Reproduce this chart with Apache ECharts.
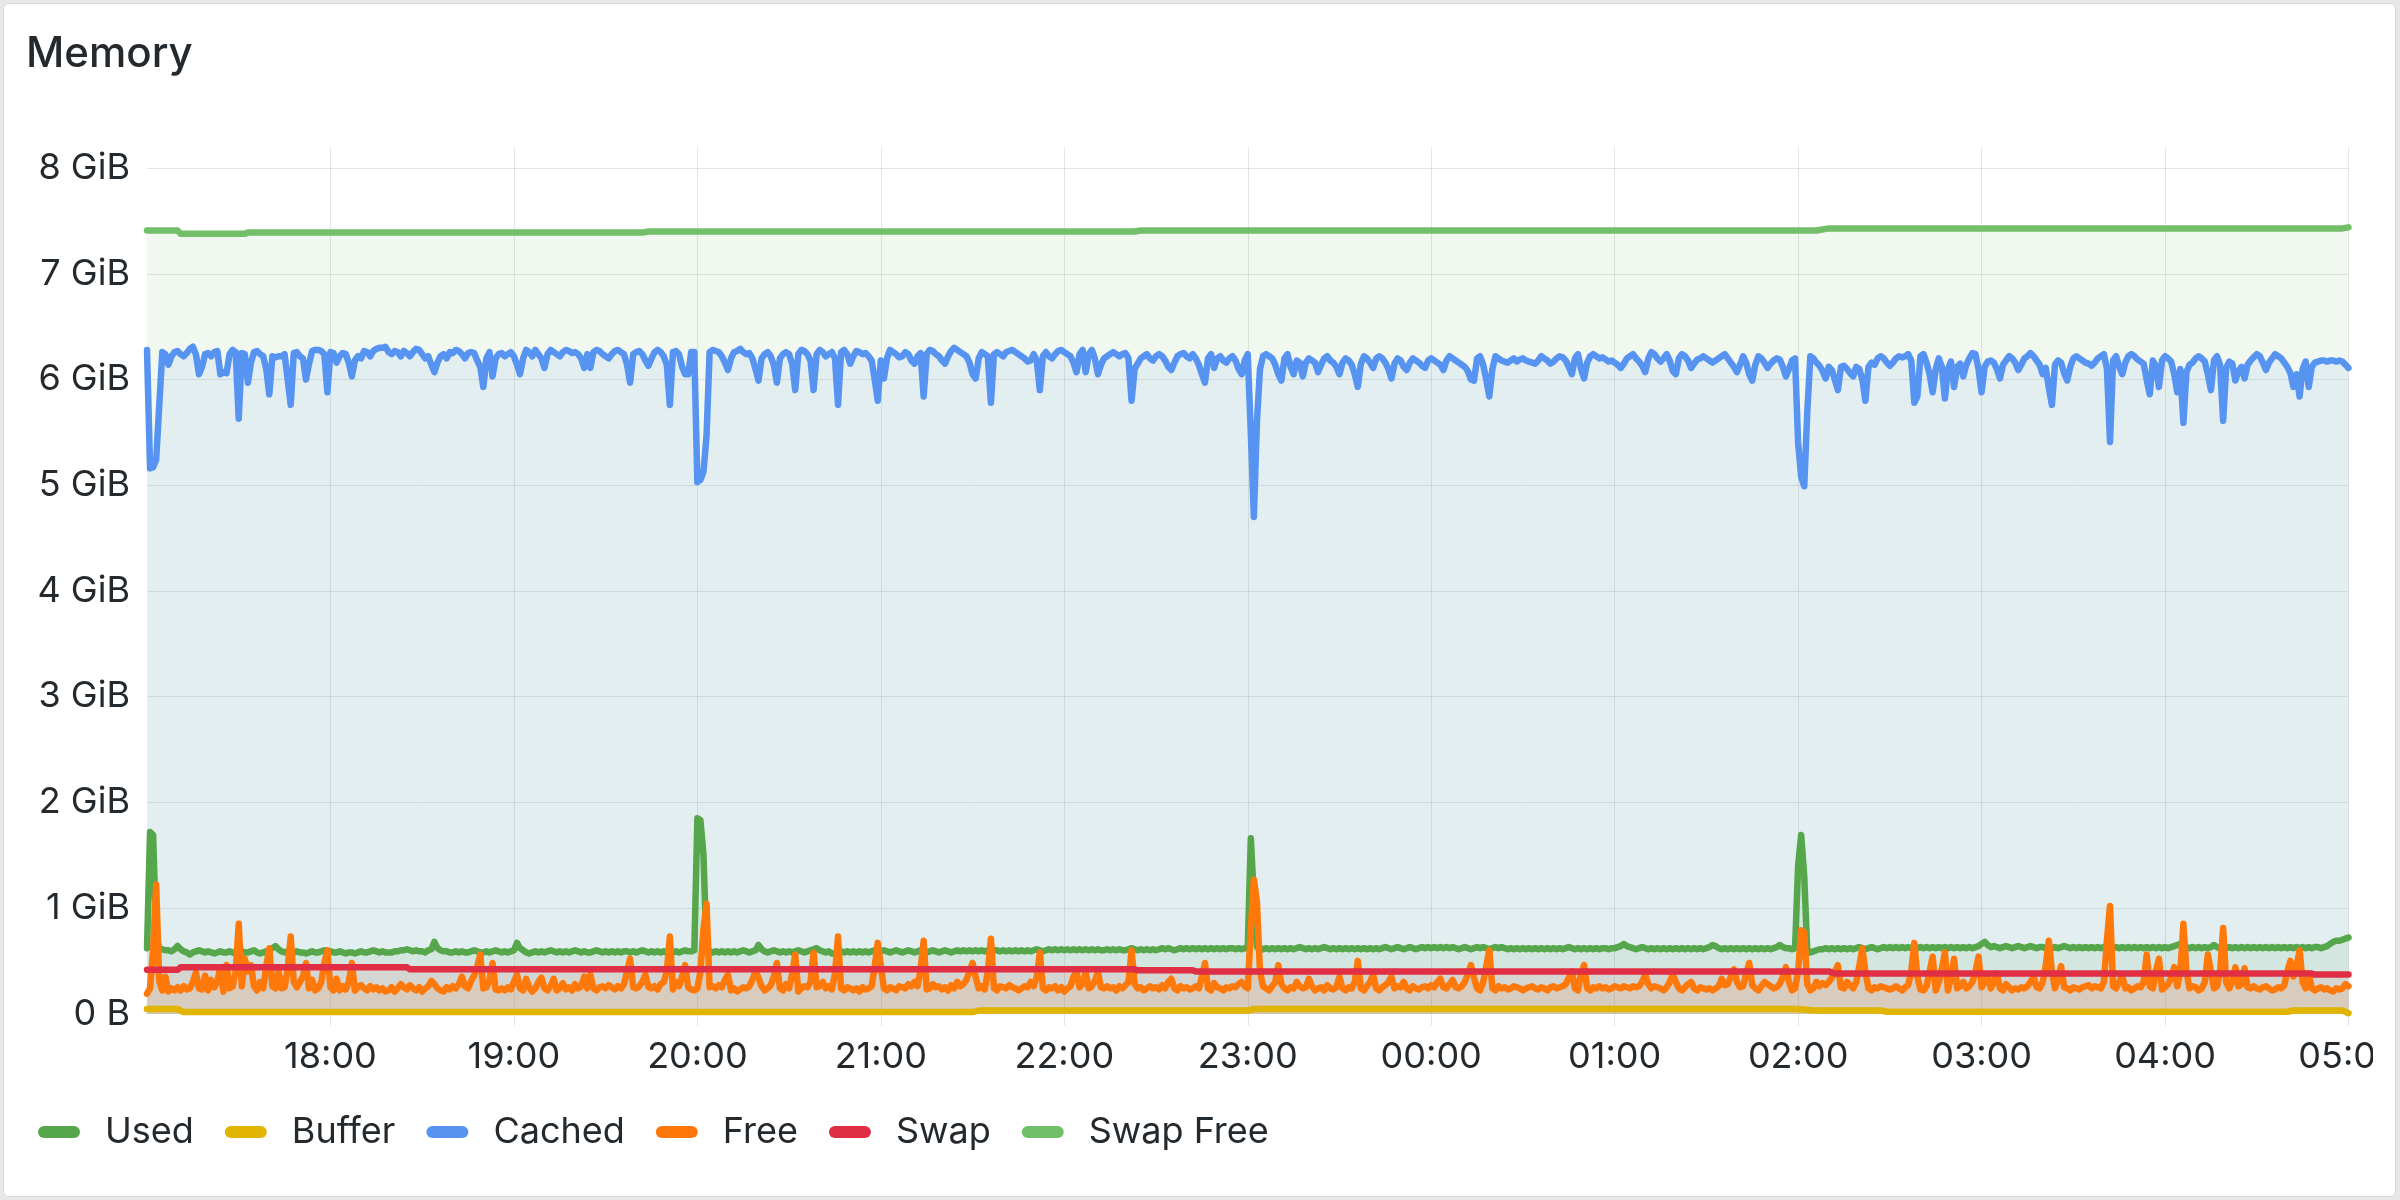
<!DOCTYPE html>
<html>
<head>
<meta charset="utf-8">
<title>Memory</title>
<script src="https://cdn.jsdelivr.net/npm/echarts@6/dist/echarts.min.js"></script>
<style>
  html, body { margin: 0; padding: 0; background: #e6e7e9; }
  .panel { position: absolute; left: 3px; top: 3px; width: 2391px; height: 1192px; background: #fff; border: 1px solid #d8d9db; border-radius: 6px; }
  #chart { position: absolute; left: 0; top: 0; width: 2373px; height: 1200px; }
</style>
</head>
<body>
<div class="panel"></div>
<div id="chart"></div>
<script>
  // time axis: minutes since 17:00, one sample per minute up to 05:00
  var startHour = 17
  var stepMin = 1

  // values in 1/100 GiB
  var cached = [
    628,516,517,524,575,626,624,614,622,626,627,624,622,625,629,631,624,605,612,624,
    625,622,626,627,605,607,606,624,628,626,563,625,624,597,616,626,627,624,622,610,
    586,622,621,622,622,624,600,576,625,626,622,620,600,615,627,628,628,627,624,588,
    626,625,616,622,625,624,616,603,618,622,620,627,626,622,627,629,630,630,631,626,
    624,627,626,622,627,625,622,626,629,628,624,620,622,614,607,616,622,624,620,626,
    625,628,627,624,620,625,626,625,618,612,593,620,626,603,620,624,625,622,624,626,
    622,614,605,620,628,626,622,628,624,620,611,624,628,626,624,622,626,628,627,625,
    626,624,620,611,624,611,626,628,627,624,622,620,624,627,628,626,624,614,597,624,
    626,627,624,618,613,620,626,628,626,622,614,576,626,627,624,612,605,605,626,626,
    503,505,513,547,626,628,627,626,622,616,609,620,626,627,629,626,624,625,620,610,
    599,620,624,626,622,614,597,620,624,626,624,615,590,624,628,627,624,618,590,624,
    628,626,622,624,626,620,576,626,628,624,615,622,627,626,624,625,622,618,600,580,
    618,601,620,628,626,624,621,622,626,624,618,615,622,625,584,624,628,627,624,622,
    618,615,622,627,630,628,626,624,622,616,605,601,620,626,624,622,578,624,626,624,
    622,626,627,628,626,624,622,620,617,618,624,618,590,622,626,622,620,624,627,628,
    626,624,622,616,607,624,628,607,624,628,620,605,614,620,622,624,626,624,622,624,
    625,620,580,610,615,620,622,624,620,618,622,624,622,618,612,609,616,622,624,625,
    622,620,624,620,614,605,597,620,624,611,620,622,618,616,620,622,618,610,605,618,
    624,550,470,560,610,622,624,622,620,614,605,599,620,624,612,605,618,616,603,616,
    620,618,616,607,614,620,622,618,616,612,605,616,620,618,614,605,593,615,622,620,
    616,611,620,622,620,616,610,601,615,620,618,612,609,616,620,618,616,613,611,618,
    620,618,616,614,609,618,622,620,618,616,614,612,608,600,599,620,622,614,600,584,
    610,622,620,618,617,616,618,620,617,619,620,618,617,616,615,618,622,620,618,615,
    617,620,622,621,618,612,605,620,624,610,601,616,622,624,622,620,621,619,617,618,
    616,614,611,615,620,622,624,620,617,613,607,620,626,624,620,617,620,624,618,608,
    605,620,624,622,618,611,615,619,620,622,620,618,616,618,620,622,624,620,616,612,
    607,614,622,616,605,599,614,622,620,616,611,615,618,620,619,612,603,610,618,620,
    540,508,499,570,622,620,616,613,608,601,612,609,600,590,612,613,610,606,603,612,
    610,600,580,612,616,614,620,622,620,616,613,616,620,622,621,622,624,618,578,584,
    622,624,616,605,588,610,620,612,582,610,617,593,612,615,603,614,620,625,624,610,
    588,612,617,618,616,610,601,614,618,622,620,616,609,614,620,622,625,622,618,614,
    605,611,592,576,614,618,616,606,599,612,620,622,620,618,616,615,613,616,620,622,
    624,610,541,618,622,612,605,616,622,624,622,619,617,615,600,586,618,613,593,618,
    622,620,617,605,588,610,559,607,614,616,620,622,620,617,605,590,618,622,614,561,
    611,617,615,599,608,612,601,614,618,621,624,622,616,609,616,620,624,622,620,616,
    612,606,593,605,584,610,617,593,612,616,617,618,618,617,618,618,617,618,617,614,
    611
  ]

  var free = [
    19,24,60,122,31,22,35,21,24,22,25,22,26,23,24,30,39,24,23,36,
    22,32,25,30,44,21,46,24,26,40,85,26,52,40,46,26,22,30,24,45,
    62,26,24,40,24,25,42,73,30,25,30,35,48,24,32,22,24,30,48,60,
    25,22,33,22,26,23,30,48,22,25,27,24,22,26,23,25,22,24,21,22,
    25,21,24,28,25,23,27,24,22,25,21,24,26,31,28,24,22,21,25,23,
    26,24,28,35,26,24,31,36,45,56,24,25,32,48,23,22,24,22,25,23,
    30,37,24,22,33,25,21,24,30,34,24,22,26,33,22,24,29,23,25,22,
    28,24,26,35,24,37,24,22,25,26,24,27,25,23,26,24,28,40,52,25,
    24,26,30,37,25,24,26,23,28,30,40,73,23,30,26,35,46,25,23,22,
    24,40,80,104,25,26,24,27,25,32,37,22,24,21,23,25,24,26,32,40,
    34,26,22,24,27,35,48,24,22,28,24,38,56,21,24,26,25,30,58,25,
    26,30,24,26,23,38,73,24,22,25,24,22,24,21,25,23,24,26,45,67,
    46,24,22,25,24,22,26,25,24,28,26,30,26,42,69,23,24,28,25,26,
    23,25,22,27,24,30,26,28,32,40,48,35,24,26,23,40,71,24,22,26,
    25,24,27,25,24,22,24,26,25,30,26,35,58,24,22,25,24,26,22,25,
    21,24,26,35,40,25,28,39,24,26,31,39,25,24,26,24,25,22,26,24,
    27,30,60,28,24,25,22,24,26,24,25,23,27,24,30,33,24,22,26,24,
    25,23,24,26,24,35,48,24,22,29,25,24,22,25,24,26,25,28,30,26,
    24,80,127,106,40,26,24,22,26,30,46,28,24,22,25,24,30,26,24,25,
    33,26,22,24,25,22,27,24,23,25,35,24,22,25,24,30,50,24,22,26,
    30,37,24,22,25,27,30,35,24,26,25,30,24,22,26,24,23,25,26,24,
    27,25,30,33,25,24,28,32,25,24,26,30,38,46,34,24,22,30,45,60,
    24,22,26,24,25,23,24,26,25,24,22,24,25,26,24,23,25,24,22,25,
    26,24,25,26,28,34,40,24,22,38,46,24,22,25,24,26,24,25,23,24,
    26,25,24,26,25,24,26,25,26,30,37,28,24,26,25,24,22,25,30,37,
    30,24,22,25,28,30,24,22,25,24,23,24,22,24,26,33,27,28,35,42,
    30,25,26,38,48,27,24,22,26,30,28,26,24,25,28,35,44,30,22,24,
    40,79,77,28,22,24,30,26,29,27,30,34,40,46,25,24,30,27,24,30,
    45,62,40,24,22,25,24,26,25,24,23,24,26,24,22,25,27,40,67,35,
    23,22,26,40,54,22,30,42,58,22,35,52,24,26,30,24,26,30,40,54,
    25,30,35,24,30,38,24,22,28,25,22,24,23,25,24,26,30,35,25,24,
    30,46,69,40,24,33,45,25,24,22,25,24,23,25,26,27,24,26,25,24,
    30,70,102,26,24,30,36,24,25,22,24,26,25,30,56,26,24,40,52,23,
    25,28,34,44,26,40,85,40,24,26,25,22,24,30,56,40,24,26,40,81,
    30,24,30,44,26,28,43,25,24,26,24,23,25,26,24,22,23,25,24,27,
    40,50,35,45,60,30,24,38,24,22,24,25,23,24,22,21,24,23,24,28,
    26
  ]

  var used = [
    62,172,169,75,61,61,60,60,59,61,64,61,59,58,56,58,59,60,59,58,
    59,58,57,58,59,58,58,59,58,57,58,59,58,58,59,60,58,57,58,59,
    60,62,64,61,59,58,59,58,58,59,58,58,57,58,59,58,58,59,60,59,
    59,58,58,59,58,57,58,58,57,58,59,58,58,59,60,59,58,59,58,58,
    58,59,59,60,60,61,60,59,60,59,59,58,60,61,68,62,60,59,59,58,
    58,59,58,59,58,58,59,60,59,58,58,59,58,59,60,59,58,59,58,59,
    60,67,62,60,58,57,58,59,58,59,58,59,60,59,58,59,58,59,58,59,
    60,59,58,59,58,58,59,60,59,58,59,58,59,58,59,58,59,59,58,59,
    58,59,60,59,58,59,58,59,58,59,58,59,58,59,58,59,60,59,59,60,
    185,183,150,60,59,58,59,58,59,58,59,58,59,58,59,60,59,58,59,60,
    65,61,59,58,59,60,59,58,59,58,59,58,59,60,59,58,59,60,61,62,
    60,59,58,59,57,57,58,59,58,59,58,59,58,59,58,59,58,59,60,59,
    59,60,59,58,59,60,59,58,59,60,59,58,59,60,59,58,59,60,59,58,
    59,60,59,58,59,60,59,60,59,60,59,60,59,60,59,60,59,60,60,59,
    60,59,60,59,60,59,60,59,60,59,60,61,60,59,60,61,60,61,60,61,
    60,61,60,61,60,61,60,61,60,61,60,61,60,60,61,60,61,60,61,60,
    60,61,62,61,60,61,60,61,60,61,60,61,62,61,62,61,60,61,62,61,
    62,61,62,61,62,61,62,61,62,61,62,61,62,61,62,62,61,62,61,62,
    62,166,110,63,62,61,62,61,62,61,62,61,62,61,62,61,62,63,62,61,
    62,61,62,61,62,63,62,61,62,61,62,61,62,61,62,61,62,61,62,61,
    62,61,62,61,62,63,62,61,62,63,62,61,62,63,62,61,62,63,62,63,
    62,63,62,63,62,63,62,63,62,61,62,63,62,61,62,63,62,63,62,61,
    62,63,62,63,62,61,62,61,62,61,62,61,62,61,62,61,62,61,62,61,
    62,61,62,61,62,63,62,61,62,61,62,61,62,61,62,61,62,62,61,62,
    62,63,64,66,64,63,62,61,62,63,62,61,62,61,62,61,62,61,62,61,
    62,61,62,61,62,61,62,61,62,61,62,63,65,64,62,61,62,61,62,61,
    62,61,62,61,62,61,62,61,62,61,62,61,62,63,65,63,62,62,61,62,
    140,169,130,59,58,59,60,61,61,62,61,62,61,62,61,62,61,62,61,62,
    63,62,61,62,63,62,61,62,63,62,63,62,63,62,63,62,63,62,63,62,
    63,62,63,62,63,62,63,62,63,62,63,62,63,62,63,62,63,62,63,64,
    66,68,65,63,64,63,62,63,64,63,62,63,64,63,62,63,64,63,62,63,
    63,62,63,62,63,62,63,64,63,62,63,62,63,62,63,62,63,62,63,62,
    63,64,63,62,63,62,63,62,63,62,63,62,63,62,63,62,63,62,63,62,
    63,62,63,64,65,66,64,63,62,63,62,63,62,63,62,63,65,63,62,63,
    62,63,62,63,62,63,62,63,62,63,62,63,62,63,62,63,62,63,62,63,
    62,63,62,63,62,63,62,63,62,63,63,62,63,64,66,68,69,69,70,71,
    72
  ]

  // step-like series as [minute, 1/100 GiB]
  var buffer = [[0, 4.5], [10, 4.5], [12, 1.5], [270, 1.5], [272, 3], [360, 3], [362, 4.5], [540, 4.5],
    [545, 3], [567, 3], [569, 1.8], [700, 1.8], [702, 3], [718, 3], [720, 0.5]]
  var swap = [[0, 41.5], [10, 41.5], [11, 44], [85, 44], [86, 42], [323, 42], [324, 41], [342, 41],
    [343, 40], [550, 40], [552, 38], [708, 38], [709, 37], [720, 37]]
  var swapFree = [[0, 741], [10, 741], [11, 738], [32, 738], [33, 739], [162, 739], [164, 740], [323, 740],
    [325, 741], [546, 741], [550, 743], [718, 743], [720, 744]]

  var yTicksGiB = [0, 1, 2, 3, 4, 5, 6, 7, 8]

  var textColor = '#24292e'
  var gridColor = 'rgba(0, 0, 0, 0.1)'
  var font = 'Inter'

  var fromList = function (vals) {
    return vals.map(function (v, i) { return [i * stepMin, v / 100] })
  }
  var fromPairs = function (pairs) {
    return pairs.map(function (p) { return [p[0], p[1] / 100] })
  }

  var mkSeries = function (name, color, data) {
    return {
      name: name,
      type: 'line',
      data: data,
      showSymbol: false,
      symbol: 'none',
      silent: true,
      emphasis: { disabled: true },
      lineStyle: { width: 6.5, color: color, join: 'round', cap: 'round' },
      itemStyle: { color: color },
      areaStyle: { color: color, opacity: 0.1 }
    }
  }

  var myChart = echarts.init(document.getElementById('chart'))

  var option = {
    animation: false,
    title: {
      text: 'Memory',
      left: 26,
      top: 33,
      padding: 0,
      textStyle: { fontFamily: font, fontSize: 42, fontWeight: 500, color: textColor }
    },
    legend: {
      left: 38,
      top: 1114,
      padding: 0,
      icon: 'path://M6,0H36A6,6,0,0,1,36,12H6A6,6,0,0,1,6,0Z',
      itemWidth: 42,
      itemHeight: 12,
      itemGap: 31,
      selectedMode: false,
      itemStyle: { borderWidth: 0 },
      textStyle: { fontFamily: font, fontSize: 36, color: textColor, padding: [0, 0, 0, 20] },
      data: ['Used', 'Buffer', 'Cached', 'Free', 'Swap', 'Swap Free']
    },
    grid: { left: 147, right: 24.5, top: 147, bottom: 186.3, outerBoundsMode: 'none' },
    xAxis: {
      type: 'value',
      min: 0,
      max: 720,
      interval: 60,
      axisLine: { show: false },
      axisTick: { show: true, length: 12, lineStyle: { color: gridColor, width: 1 } },
      splitLine: { show: true, showMinLine: false, lineStyle: { color: gridColor, width: 1 } },
      axisLabel: {
        fontFamily: font,
        fontSize: 36,
        color: textColor,
        margin: 25,
        showMinLabel: false,
        formatter: function (v) {
          var h = (startHour + Math.round(v / 60)) % 24
          return (h < 10 ? '0' : '') + h + ':00'
        }
      }
    },
    yAxis: {
      type: 'value',
      min: 0,
      max: 8.2,
      interval: 1,
      axisLine: { show: false },
      axisTick: { show: false },
      splitLine: { show: true, showMaxLine: false, lineStyle: { color: gridColor, width: 1 } },
      axisLabel: {
        fontFamily: font,
        fontSize: 36,
        color: textColor,
        margin: 17,
        showMaxLabel: false,
        formatter: function (v) {
          if (yTicksGiB.indexOf(v) < 0) return ''
          return v === 0 ? '0 B' : v + ' GiB'
        }
      }
    },
    series: [
      mkSeries('Used', '#56A64B', fromList(used)),
      mkSeries('Buffer', '#E0B400', fromPairs(buffer)),
      mkSeries('Cached', '#5794F2', fromList(cached)),
      mkSeries('Free', '#FF780A', fromList(free)),
      mkSeries('Swap', '#E02F44', fromPairs(swap)),
      mkSeries('Swap Free', '#73BF69', fromPairs(swapFree))
    ]
  }
  myChart.setOption(option)
</script>
</body>
</html>
